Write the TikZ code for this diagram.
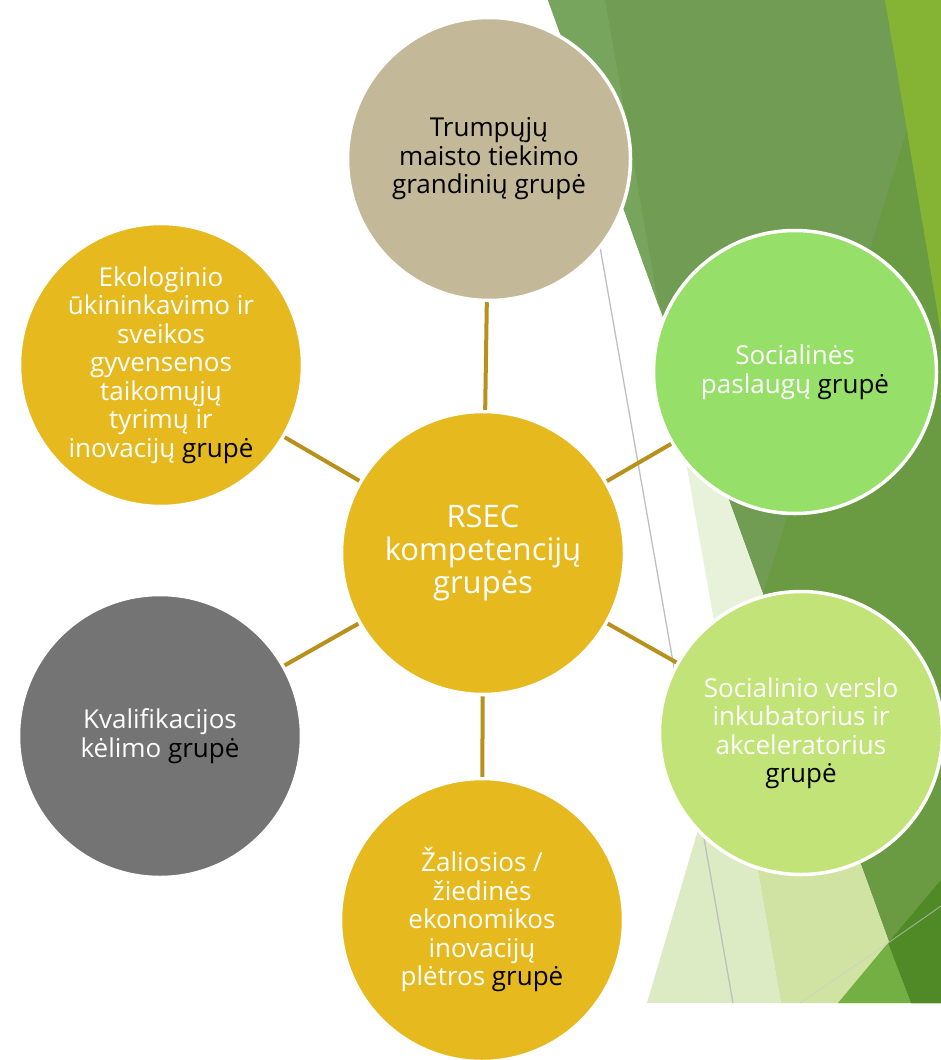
\documentclass[tikz,border=0pt]{standalone}
\usepackage{fontspec}
\setmainfont{Open Sans}
\definecolor{bgmain}{HTML}{719C53}
\definecolor{bgstrip}{HTML}{78A55D}
\definecolor{bgdark}{HTML}{6A9A41}
\definecolor{bgbright}{HTML}{85B333}
\definecolor{bgvlight}{HTML}{E8F1D9}
\definecolor{bglight}{HTML}{DDEBC4}
\definecolor{bgmid}{HTML}{D1E3A3}
\definecolor{bgbtri}{HTML}{73AF43}
\definecolor{bgdeep}{HTML}{4F8A26}
\definecolor{ctan}{HTML}{C3B998}
\definecolor{cgreen}{HTML}{96DF68}
\definecolor{clime}{HTML}{C1E377}
\definecolor{cyellow}{HTML}{E6B91F}
\definecolor{cgray}{HTML}{747474}
\definecolor{clink}{HTML}{B8911C}
\newcommand{\blk}[1]{\textcolor{black}{#1}}
\begin{document}
\begin{tikzpicture}[x=1pt,y=-1pt,
  grp/.style={circle, draw=white, line width=3.5pt, minimum size=283pt,
     inner sep=0pt, align=center, text=white,
     font=\fontsize{26}{28.5}\selectfont},
  link/.style={draw=clink, line width=4pt}]
\useasboundingbox (0,0) rectangle (941,1060);
\fill[white] (0,0) rectangle (941,1060);
% background facets
\fill[bgmain] (548,0) -- (941,0) -- (941,1003) -- (911,1003) -- cycle;
\fill[bgstrip] (548,0) -- (605,0) -- (658.6,305.7) -- cycle;
\fill[bgdark] (907,130) -- (941,333) -- (941,1003) -- (911,1003) -- (763,595) -- cycle;
\fill[bgbright] (885,0) -- (941,0) -- (941,333) -- cycle;
\fill[bgvlight] (658.6,305.7) -- (911,1003) -- (781,1003) -- cycle;
\fill[bgmid] (745.4,800) -- (837.5,800) -- (911,1003) -- (781,1003) -- cycle;
\fill[bglight] (647,1003) -- (731,718) -- (781,1003) -- cycle;
\fill[bgbtri] (838,1003) -- (888,943) -- (911,1003) -- cycle;
\fill[bgdeep] (888,943) -- (941,880) -- (941,1003) -- (911,1003) -- cycle;
\draw[color=black!20, line width=1pt, opacity=0.6] (800,1003) -- (888,943) -- (941,906);
\draw[color=black!25, line width=1.3pt] (590,190) -- (733,1003);
% circles
\node[grp, fill=ctan, text=black] (t) at (489,159) {Trumpųjų\\maisto tiekimo\\grandinių grupė};
\node[grp, fill=cyellow] (e) at (161,365) {Ekologinio\\ūkininkavimo ir\\sveikos\\gyvensenos\\taikomųjų\\tyrimų ir\\inovacijų \blk{grupė}};
\node[grp, fill=cgreen] (s) at (795,372) {Socialinės\\paslaugų \blk{grupė}};
\node[grp, fill=cyellow, font=\fontsize{31}{33}\selectfont] (c) at (483,553) {RSEC\\kompetencijų\\grupės};
\node[grp, fill=cgray] (k) at (160,736) {Kvalifikacijos\\kėlimo \blk{grupė}};
\node[grp, fill=clime] (v) at (801,733) {Socialinio verslo\\inkubatorius ir\\akceleratorius\\\blk{grupė}};
\node[grp, fill=cyellow] (z) at (482,920) {Žaliosios /\\žiedinės\\ekonomikos\\inovacijų\\plėtros \blk{grupė}};
% connectors
\draw[link] (c) -- (t);
\draw[link] (c) -- (e);
\draw[link] (c) -- (s);
\draw[link] (c) -- (k);
\draw[link] (c) -- (v);
\draw[link] (c) -- (z);
\end{tikzpicture}
\end{document}
